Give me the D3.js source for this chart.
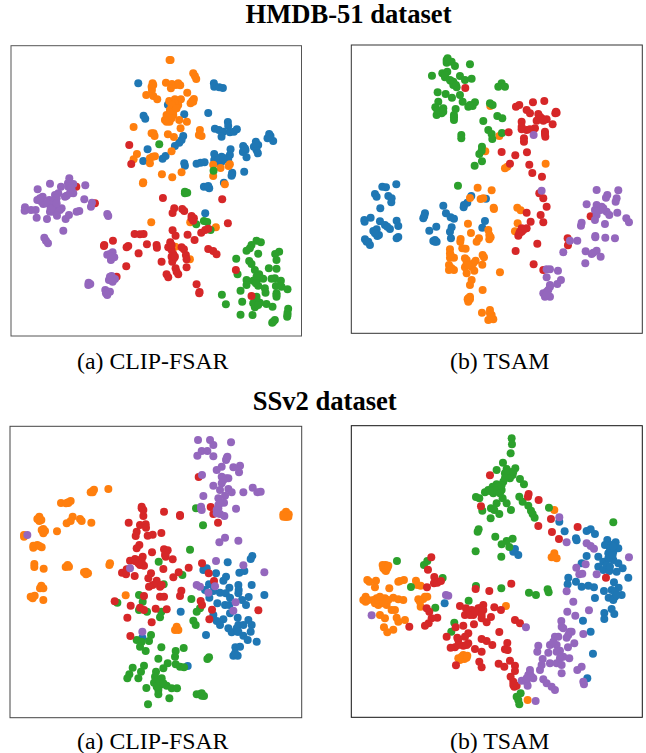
<!DOCTYPE html>
<html>
<head>
<meta charset="utf-8">
<script src="https://cdn.jsdelivr.net/npm/d3@7"></script>
<style>
  html, body { margin: 0; padding: 0; background: #fff; }
  svg { display: block; }
</style>
</head>
<body>
<svg id="chart"></svg>
<script>
// t-SNE points, one array per class per panel

// HMDB-51, CLIP-FSAR
const hmdbClipBlue = [[415,160],[642,160],[643,170],[658,172],[669,174],[504,224],[553,253],[625,249],[431,257],[436,266],[684,276],[685,288],[645,296],[657,300],[670,305],[665,320],[690,307],[702,305],[711,298],[808,312],[803,325],[820,333],[812,318],[550,318],[545,330],[538,338],[525,348],[443,358],[430,393],[488,386],[497,378],[730,348],[737,360],[729,366],[740,382],[768,335],[762,350],[775,345],[770,360],[774,370],[692,358],[690,375],[685,390],[643,372],[643,390],[665,380],[665,395],[650,398],[555,407],[590,401],[602,398],[614,397],[733,425],[697,432],[672,458],[612,470],[625,472],[628,475],[616,550],[680,385],[660,385],[655,390],[670,385],[697,428],[695,437],[768,342],[808,320],[735,355],[553,400],[625,468]];
const hmdbClipOrange = [[509,90],[512,90],[580,130],[585,138],[589,147],[458,160],[455,170],[456,180],[498,158],[516,162],[513,175],[528,165],[541,166],[562,188],[439,195],[460,198],[472,208],[582,207],[577,213],[572,220],[508,213],[525,208],[543,208],[535,225],[520,235],[510,240],[500,255],[495,270],[509,275],[520,255],[538,270],[561,275],[401,291],[542,295],[600,300],[597,315],[605,318],[461,310],[504,313],[522,321],[515,364],[411,372],[401,388],[450,385],[450,400],[465,379],[486,433],[517,442],[545,427],[430,457],[429,460],[640,404],[662,414],[640,438],[690,403],[686,408],[675,463],[454,577],[571,577],[648,592],[526,650],[570,688],[525,220],[515,225],[510,250],[505,262],[520,245],[530,235],[580,215],[460,165],[455,310],[464,318],[458,380],[515,265],[500,275],[535,160]];
const hmdbClipGreen = [[478,343],[555,485],[562,488],[641,422],[589,583],[612,573],[622,576],[632,600],[770,632],[783,637],[755,645],[750,655],[740,662],[838,665],[826,672],[830,690],[709,686],[775,671],[748,693],[755,702],[807,715],[830,716],[765,720],[778,733],[713,733],[740,750],[760,752],[772,748],[790,746],[815,746],[825,745],[843,752],[740,765],[775,767],[828,768],[845,770],[863,778],[722,782],[795,775],[797,788],[830,790],[830,800],[666,794],[727,815],[770,810],[760,820],[780,818],[765,832],[800,822],[818,830],[678,823],[722,854],[758,855],[865,836],[863,848],[862,860],[825,870],[817,878],[770,740],[768,760],[765,825],[775,825],[770,800],[555,490],[820,875],[863,855],[830,795]];
const hmdbClipRed = [[388,345],[394,402],[229,470],[285,520],[489,504],[667,508],[523,535],[518,549],[547,537],[553,543],[575,558],[582,565],[580,572],[684,580],[518,601],[527,617],[563,614],[584,630],[604,608],[616,600],[625,596],[404,612],[420,613],[431,612],[339,632],[313,645],[312,648],[385,648],[380,652],[441,643],[470,645],[471,653],[416,670],[511,637],[510,650],[505,652],[545,652],[552,658],[625,657],[640,663],[650,673],[558,675],[520,672],[522,685],[517,695],[560,688],[485,695],[527,715],[560,712],[379,709],[500,733],[505,742],[535,733],[350,740],[590,763],[599,786],[708,720],[755,798],[515,660],[515,680],[525,680],[530,725],[575,565],[515,645],[598,790]];
const hmdbClipPurple = [[208,445],[150,461],[113,478],[183,470],[204,460],[220,462],[256,466],[215,480],[220,490],[200,497],[175,490],[165,495],[128,500],[112,510],[125,515],[130,522],[148,510],[155,522],[253,508],[276,518],[273,530],[152,535],[165,530],[185,535],[180,540],[75,532],[74,542],[93,540],[107,540],[160,545],[171,557],[110,563],[141,567],[207,555],[197,567],[230,545],[238,543],[322,552],[190,602],[133,623],[138,632],[144,640],[338,667],[322,674],[333,690],[343,682],[335,738],[327,750],[345,747],[266,758],[271,762],[316,780],[330,785],[322,795],[210,462],[205,470],[212,475],[195,500],[170,505],[160,512],[140,520],[150,545],[155,535],[170,520],[325,558],[330,672],[335,680],[325,785],[318,790],[265,765],[330,740],[338,755],[120,505],[210,490]];

// HMDB-51, TSAM
const hmdbTsamBlue = [[199,463],[157,470],[168,472],[135,492],[140,500],[175,498],[185,505],[184,517],[151,535],[122,563],[103,570],[104,575],[150,574],[165,585],[180,597],[200,572],[205,588],[140,598],[130,603],[147,615],[142,618],[205,621],[200,625],[105,628],[115,635],[120,645],[285,550],[280,565],[340,527],[348,550],[362,562],[372,566],[424,498],[412,518],[402,525],[401,532],[468,506],[465,573],[457,593],[319,590],[298,602],[365,592],[360,605],[363,625],[315,630],[315,635],[172,590],[135,610],[110,635],[310,633],[320,635],[283,558]];
const hmdbTsamOrange = [[481,228],[508,318],[466,364],[525,415],[532,410],[647,401],[443,473],[485,481],[420,504],[452,507],[460,505],[491,533],[492,537],[562,533],[572,541],[414,581],[563,580],[555,604],[423,609],[475,600],[482,622],[478,628],[447,625],[440,635],[392,627],[391,635],[397,655],[407,656],[360,658],[360,670],[360,683],[372,683],[405,685],[437,692],[410,700],[405,712],[425,710],[457,704],[458,675],[462,682],[357,705],[357,720],[372,720],[410,730],[433,722],[510,727],[425,750],[420,765],[458,780],[420,800],[413,808],[415,815],[456,848],[480,840],[485,855],[475,870],[490,868],[415,805],[420,808],[480,850],[482,862],[362,675],[410,690],[420,705],[430,700],[415,705],[478,615],[360,712],[365,715]];
const hmdbTsamGreen = [[353,85],[350,98],[365,95],[375,108],[420,103],[306,137],[337,130],[352,125],[345,142],[390,138],[405,150],[425,146],[362,152],[370,165],[380,172],[323,187],[347,192],[366,203],[390,195],[398,215],[415,230],[435,217],[428,228],[325,215],[316,232],[340,235],[335,250],[320,255],[377,237],[372,255],[372,270],[515,160],[505,170],[525,170],[480,220],[488,225],[460,273],[502,258],[517,265],[475,300],[485,312],[487,327],[516,309],[394,315],[394,325],[456,350],[455,362],[448,372],[456,394],[434,407],[384,467],[345,135],[370,155],[378,165],[330,245],[322,240],[340,245],[360,150],[350,90],[420,225],[372,262]];
const hmdbTsamRed = [[406,174],[568,225],[558,230],[609,217],[643,213],[590,240],[600,250],[678,245],[676,250],[625,252],[575,275],[620,272],[635,265],[650,268],[668,283],[575,298],[590,300],[615,295],[645,305],[536,307],[582,325],[582,335],[646,320],[515,366],[556,376],[591,367],[540,401],[598,404],[607,429],[636,440],[628,490],[640,505],[650,530],[590,548],[632,555],[640,577],[602,575],[782,559],[590,595],[575,595],[570,605],[565,617],[622,641],[557,663],[611,703],[640,720],[713,625],[714,646],[630,260],[625,268],[640,272],[575,290],[600,298],[575,605],[580,600],[568,610],[645,312],[680,248]];
const hmdbTsamPurple = [[611,315],[635,482],[800,480],[865,481],[832,495],[828,503],[860,505],[857,515],[770,523],[800,525],[795,540],[815,530],[830,545],[800,555],[795,570],[838,555],[862,548],[889,565],[897,577],[825,582],[755,578],[753,587],[796,618],[826,623],[855,625],[720,632],[742,632],[700,667],[767,664],[785,672],[800,662],[812,680],[766,700],[650,718],[660,718],[684,722],[650,742],[693,750],[682,762],[660,770],[650,785],[640,790],[660,800],[645,800],[805,530],[812,540],[820,535],[800,545],[650,790],[655,780],[650,795],[660,765],[796,622],[790,668]];

// SSv2, CLIP-FSAR
const ssClipBlue = [[757,423],[752,432],[683,442],[610,465],[620,460],[648,475],[718,473],[733,468],[678,485],[670,497],[627,508],[755,510],[715,510],[716,525],[688,518],[615,525],[640,528],[660,533],[677,535],[690,548],[715,535],[746,546],[793,540],[628,548],[652,565],[675,570],[688,570],[726,555],[738,570],[542,590],[690,595],[640,600],[670,613],[713,608],[745,615],[650,618],[660,630],[755,630],[715,630],[685,640],[695,652],[712,650],[752,650],[730,662],[743,675],[770,680],[618,660],[427,668],[706,697],[720,695],[700,722],[713,722],[563,753],[710,640],[715,650],[730,630],[705,715]];
const ssClipOrange = [[278,228],[325,222],[183,264],[205,264],[212,258],[118,312],[118,318],[218,305],[200,325],[212,318],[240,312],[245,318],[274,323],[130,342],[130,355],[171,349],[72,365],[100,398],[112,390],[125,397],[103,447],[103,456],[131,461],[197,456],[207,455],[258,470],[258,478],[328,450],[124,516],[98,545],[130,555],[377,541],[530,642],[858,298],[858,300],[278,232],[272,232],[282,224],[118,305],[112,312],[124,315],[130,350],[125,345],[135,348],[258,474],[264,475],[252,472],[124,512],[120,520],[130,520],[98,550],[92,545],[104,542],[858,290],[850,298],[866,298],[858,306],[865,305],[850,305],[530,635],[525,645],[535,645],[205,262],[198,265],[100,392],[118,393],[330,445],[203,450],[72,360]];
const ssClipGreen = [[588,280],[609,331],[570,404],[476,440],[547,480],[491,508],[417,540],[428,560],[352,563],[417,585],[441,590],[574,552],[600,580],[590,590],[484,590],[480,607],[580,617],[587,630],[453,660],[410,675],[425,680],[447,678],[420,695],[437,708],[484,697],[551,699],[527,708],[525,725],[475,731],[627,727],[622,732],[503,745],[490,760],[432,752],[398,758],[423,770],[527,748],[540,755],[552,757],[468,770],[388,778],[382,790],[415,790],[465,785],[485,790],[462,803],[480,810],[500,812],[515,820],[531,820],[439,819],[475,825],[475,838],[590,838],[605,835],[612,843],[508,850],[444,868],[475,795],[478,805],[470,815],[480,800],[490,805],[605,842],[600,838]];
const ssClipRed = [[596,186],[425,280],[492,290],[540,303],[632,276],[640,297],[430,303],[654,323],[386,323],[420,330],[437,328],[438,338],[410,350],[407,363],[443,362],[458,359],[484,354],[418,390],[410,400],[456,412],[492,403],[503,406],[497,425],[518,433],[428,425],[420,435],[390,437],[405,438],[606,445],[420,450],[432,452],[380,463],[366,473],[378,478],[404,483],[490,462],[566,458],[536,472],[626,475],[453,475],[445,490],[470,497],[520,487],[642,498],[458,510],[447,515],[480,515],[544,527],[540,543],[432,543],[480,545],[492,545],[344,559],[392,572],[606,570],[602,558],[420,578],[432,585],[467,581],[500,583],[636,584],[775,586],[382,608],[455,622],[628,613],[391,663],[425,275],[430,285],[425,440],[415,445],[405,432],[497,415],[495,420],[470,505],[485,510],[540,300]];
const ssClipPurple = [[594,75],[630,75],[640,90],[693,82],[605,108],[622,108],[592,122],[640,124],[682,125],[678,135],[720,152],[700,157],[665,155],[650,165],[717,172],[606,180],[665,185],[685,190],[640,212],[665,205],[660,225],[685,222],[695,232],[730,232],[758,218],[772,232],[782,230],[610,243],[675,242],[655,250],[672,263],[655,270],[603,280],[650,285],[708,281],[660,297],[673,303],[675,368],[658,382],[715,377],[648,438],[730,451],[793,472],[82,360],[390,460],[590,510],[600,515],[645,514],[625,533],[707,562],[700,587],[427,650],[680,130],[655,280],[660,265],[650,295],[603,275],[605,285],[678,190],[670,195]];

// SSv2, TSAM
const ssTsamBlue = [[770,348],[782,343],[795,357],[704,349],[738,370],[740,376],[832,375],[857,382],[825,390],[865,400],[850,410],[835,415],[555,402],[565,420],[550,410],[770,423],[755,445],[805,425],[820,440],[850,435],[865,445],[878,460],[805,455],[820,465],[838,468],[860,470],[715,488],[713,508],[738,500],[755,515],[775,512],[792,517],[852,502],[895,488],[822,528],[845,525],[866,518],[875,540],[855,545],[836,548],[795,549],[850,555],[845,582],[823,594],[853,597],[823,612],[759,617],[782,650],[789,716],[772,790],[344,565],[688,320],[845,390],[840,400],[850,395],[835,430],[830,450],[840,455],[855,530],[860,540],[840,425],[848,420]];
const ssTsamOrange = [[167,450],[165,465],[168,458],[112,495],[138,497],[135,517],[178,520],[205,500],[222,495],[258,497],[262,510],[272,512],[292,545],[280,552],[265,553],[272,575],[107,545],[107,560],[140,550],[165,550],[190,548],[205,553],[220,555],[145,570],[170,570],[185,585],[195,585],[150,600],[165,610],[200,608],[205,620],[225,615],[162,637],[172,652],[190,644],[528,573],[673,285],[673,415],[665,427],[680,430],[395,725],[410,728],[390,735],[593,855],[165,455],[160,460],[172,460],[168,468],[158,450],[175,452],[108,553],[100,555],[115,555],[130,555],[150,560],[135,565],[145,555],[175,555],[160,565],[150,545],[395,730],[403,732],[400,720],[385,730],[412,722],[285,545],[270,560],[210,498],[118,500],[673,425]];
const ssTsamGreen = [[545,70],[546,88],[542,115],[519,143],[500,165],[530,162],[556,160],[548,180],[530,185],[520,200],[570,192],[582,208],[500,208],[488,215],[475,225],[465,232],[515,225],[490,235],[438,246],[448,250],[568,245],[518,250],[578,260],[530,265],[500,265],[483,280],[493,285],[457,287],[508,297],[482,310],[543,285],[595,272],[603,287],[608,297],[614,308],[657,278],[850,322],[446,343],[443,350],[496,365],[548,371],[530,378],[515,388],[538,396],[437,409],[514,425],[201,438],[292,438],[282,450],[338,489],[243,516],[438,513],[514,520],[597,533],[618,540],[653,523],[656,532],[316,578],[416,557],[373,623],[364,650],[572,835],[560,845],[565,855],[568,868],[525,175],[535,170],[540,190],[515,210],[505,215],[495,225],[480,228],[510,235],[550,170],[525,190]];
const ssTsamRed = [[304,427],[294,464],[313,486],[312,505],[322,503],[333,498],[291,517],[480,181],[453,274],[596,237],[594,245],[626,255],[663,312],[625,333],[666,351],[743,336],[687,372],[828,488],[544,506],[478,528],[437,522],[290,580],[298,590],[322,608],[305,610],[296,625],[285,632],[238,635],[460,570],[445,580],[425,585],[408,580],[390,573],[405,600],[430,600],[455,610],[470,622],[483,606],[432,628],[493,577],[513,585],[555,615],[570,625],[377,637],[400,632],[508,651],[350,665],[415,655],[405,665],[382,668],[385,675],[455,672],[470,678],[487,690],[415,685],[400,692],[375,697],[362,698],[435,702],[455,710],[532,684],[525,703],[533,705],[378,751],[448,740],[455,757],[506,746],[523,755],[540,737],[555,752],[555,768],[542,785],[550,800],[553,815],[560,812],[450,580],[440,590],[460,585],[420,600],[435,590],[455,600],[410,690],[385,690],[550,810]];
const ssTsamPurple = [[688,307],[710,382],[770,385],[782,393],[792,401],[897,427],[767,448],[739,458],[748,478],[757,476],[800,478],[710,529],[730,560],[777,586],[712,590],[736,602],[694,618],[695,635],[720,650],[710,668],[675,665],[660,690],[680,690],[760,657],[733,685],[714,697],[625,692],[622,710],[655,713],[690,707],[700,725],[718,730],[638,732],[660,745],[680,745],[695,750],[755,755],[742,765],[695,775],[630,765],[600,765],[595,780],[575,797],[590,800],[610,790],[640,793],[650,805],[665,815],[675,825],[760,800],[762,808],[588,637],[348,540],[355,542],[125,601],[617,858],[593,812],[600,775],[605,785],[590,790],[635,750],[690,730],[680,710],[700,640],[670,680],[685,665],[725,650],[715,660]];

const headings = ["HMDB-51 dataset", "SSv2 dataset"];
const captions = ["(a) CLIP-FSAR", "(b) TSAM"];
const colors = ["#1f77b4", "#ff7f0e", "#2ca02c", "#d62728", "#9467bd"];

const width = 646, height = 753;
const svg = d3.select("#chart").attr("width", width).attr("height", height);

const panels = [
  { series: [hmdbClipBlue, hmdbClipOrange, hmdbClipGreen, hmdbClipRed, hmdbClipPurple],
    dx: [33, 905], dy: [47, 918], x: [11, 301.5], y: [45.7, 336], stroke: "#555" },
  { series: [hmdbTsamBlue, hmdbTsamOrange, hmdbTsamGreen, hmdbTsamRed, hmdbTsamPurple],
    dx: [64, 937], dy: [45, 910], x: [351.3, 642.3], y: [45, 333.3], stroke: "#333" },
  { series: [ssClipBlue, ssClipOrange, ssClipGreen, ssClipRed, ssClipPurple],
    dx: [30, 905], dy: [34, 908], x: [10, 301.7], y: [426.3, 717.7], stroke: "#444" },
  { series: [ssTsamBlue, ssTsamOrange, ssTsamGreen, ssTsamRed, ssTsamPurple],
    dx: [64, 937], dy: [32, 907], x: [351.3, 642.3], y: [425.7, 717.3], stroke: "#111" }
];

panels.forEach((p) => {
  const x = d3.scaleLinear().domain(p.dx).range(p.x);
  const y = d3.scaleLinear().domain(p.dy).range(p.y);
  const g = svg.append("g");
  p.series.forEach((pts, i) => {
    g.append("g")
      .selectAll("circle")
      .data(pts)
      .join("circle")
      .attr("cx", (d) => x(d[0]))
      .attr("cy", (d) => y(d[1]))
      .attr("r", 4)
      .style("fill", colors[i]);
  });
  g.append("rect")
    .attr("x", p.x[0])
    .attr("y", p.y[0])
    .attr("width", p.x[1] - p.x[0])
    .attr("height", p.y[1] - p.y[0])
    .style("fill", "none")
    .style("stroke", p.stroke)
    .style("stroke-width", 1);
});

const serif = "'Liberation Serif', 'Times New Roman', serif";
[[348.5, 23], [324.7, 410]].forEach((pos, i) => {
  svg.append("text")
    .attr("x", pos[0])
    .attr("y", pos[1])
    .attr("text-anchor", "middle")
    .style("font-family", serif)
    .style("font-weight", "bold")
    .style("font-size", "26.6px")
    .text(headings[i]);
});
[[152.8, 369.3], [499.7, 369.3], [152.8, 749], [499.7, 749]].forEach((pos, i) => {
  svg.append("text")
    .attr("x", pos[0])
    .attr("y", pos[1])
    .attr("text-anchor", "middle")
    .style("font-family", serif)
    .style("font-size", "23.8px")
    .text(captions[i % 2]);
});
</script>
</body>
</html>
